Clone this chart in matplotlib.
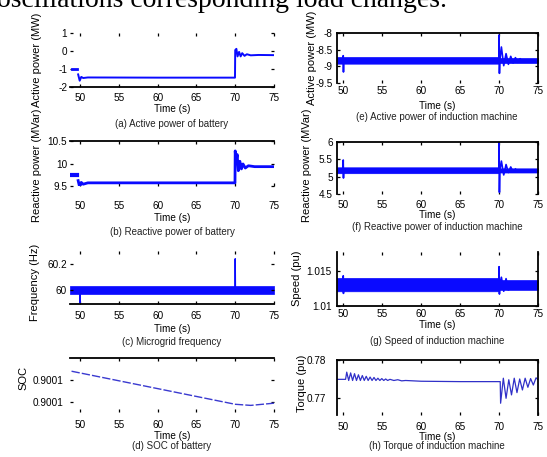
import matplotlib
matplotlib.use('Agg')
import matplotlib.pyplot as plt

plt.rcParams['font.family'] = ['Liberation Sans', 'DejaVu Sans']

W, H = 547, 457
blue = '#0a0aff'

# (a) active power of battery
t_a0 = [48.95, 49.6]
p_a0 = [-1.0, -1.0]
t_a = [49.75, 49.95, 50.15, 50.4, 51.0, 60.0, 69.97, 70.0, 70.15, 70.3, 70.5, 70.7, 70.9, 71.2, 71.5, 72.0, 73.0, 75.0]
p_a = [-1.3, -1.65, -1.44, -1.5, -1.47, -1.48, -1.48, 0.05, 0.12, -0.3, -0.05, -0.3, -0.12, -0.27, -0.18, -0.24, -0.22, -0.23]

# (b) reactive power of battery
t_b0 = [48.95, 49.6]
q_b0 = [9.74, 9.74]
t_b = [49.75, 49.95, 50.15, 50.4, 51.0, 60.0, 69.97, 70.0, 70.1, 70.25, 70.4, 70.6, 70.8, 71.0, 71.3, 71.7, 72.5, 75.0]
q_b = [9.62, 9.47, 9.58, 9.54, 9.57, 9.57, 9.57, 10.28, 10.02, 10.2, 9.84, 10.05, 9.88, 9.99, 9.9, 9.95, 9.93, 9.93]

# (c) microgrid frequency
t_c_band = [48.7, 75.0]
f_c_lo = [59.965, 59.965]
f_c_hi = [60.03, 60.03]
t_c = [49.98, 50.0, 50.03, 69.98, 70.0, 70.03]
f_c = [60.0, 59.9, 60.0, 60.0, 60.24, 60.0]

# (d) SOC of battery
t_d = [48.9, 70.0, 72.0, 75.0]
soc_d = [0.900136, 0.900076, 0.900074, 0.900078]

# (e) active power of induction machine
t_e_band = [49.2, 69.98, 70.02, 75.0]
p_e_lo = [-8.92, -8.92, -8.90, -8.90]
p_e_hi = [-8.72, -8.72, -8.75, -8.75]
t_e = [49.97, 50.0, 50.03, 50.06, 69.97, 70.0, 70.05, 70.1, 70.3, 70.6, 70.9, 71.2, 71.5, 71.8, 72.1, 72.4, 72.7, 73.0]
p_e = [-8.82, -8.68, -9.17, -8.82, -8.82, -8.06, -9.21, -8.82, -8.42, -8.98, -8.62, -8.94, -8.7, -8.9, -8.74, -8.88, -8.77, -8.85]

# (f) reactive power of induction machine
t_f_band = [49.2, 69.98, 70.02, 75.0]
q_f_lo = [5.10, 5.10, 5.12, 5.12]
q_f_hi = [5.27, 5.27, 5.24, 5.24]
t_f = [49.97, 50.0, 50.03, 50.06, 69.97, 70.0, 70.05, 70.1, 70.3, 70.6, 70.9, 71.2, 71.5, 71.8, 72.1]
q_f = [5.18, 5.48, 4.96, 5.18, 5.18, 6.0, 4.55, 5.18, 5.45, 5.05, 5.35, 5.12, 5.28, 5.14, 5.22]

# (g) speed of induction machine
t_g_band = [49.2, 69.98, 70.02, 75.0]
w_g_lo = [1.0121, 1.0121, 1.0123, 1.0123]
w_g_hi = [1.0140, 1.0140, 1.0137, 1.0137]
t_g = [49.98, 50.0, 50.03, 50.06, 69.97, 70.0, 70.05, 70.1, 70.3, 70.6, 70.9, 71.2]
w_g = [1.013, 1.0143, 1.0118, 1.013, 1.013, 1.0156, 1.0117, 1.013, 1.0141, 1.0121, 1.0139, 1.0123]

# (h) torque of induction machine
t_h = [49.2, 50.3, 50.45, 50.7, 50.95, 51.2, 51.45, 51.7, 51.95, 52.2, 52.45, 52.7, 52.95, 53.2,
       53.45, 53.7, 53.95, 54.2, 54.45, 54.7, 54.95, 55.2, 55.45, 55.7, 56.0, 56.5, 57.0, 57.5,
       58.0, 60.0, 65.0, 70.15, 70.2, 70.55, 70.9, 71.25, 71.6, 71.95, 72.3, 72.65, 73.0, 73.35,
       73.7, 74.05, 74.4, 74.75, 75.0]
tq_h = [0.7749, 0.7749, 0.7768, 0.7746, 0.7766, 0.7746, 0.7764, 0.7746, 0.7761, 0.7746, 0.7759, 0.7746, 0.7757, 0.7746,
        0.7755, 0.7746, 0.7754, 0.7746, 0.7752, 0.7746, 0.7751, 0.7746, 0.7750, 0.7746, 0.7749, 0.7746, 0.7748, 0.7745,
        0.7746, 0.7744, 0.7743, 0.7743, 0.7686, 0.7752, 0.7699, 0.7748, 0.7708, 0.7752, 0.7714, 0.7750, 0.7721, 0.7752,
        0.7728, 0.7751, 0.7734, 0.7753, 0.7748]

x_ticks = [50, 55, 60, 65, 70, 75]


def fx(px):
    return px / W


def fy(py):
    return 1 - py / H


def make_axes(left, top, right, bottom, xlim, ylim, yticks, ylabels, spines, xpad, ypad):
    ax = fig.add_axes([fx(left), fy(bottom), (right - left) / W, (bottom - top) / H])
    ax.set_xlim(xlim)
    ax.set_ylim(ylim)
    ax.set_xticks(x_ticks)
    ax.set_xticklabels([str(v) for v in x_ticks])
    ax.set_yticks(yticks)
    ax.set_yticklabels(ylabels)
    for s in ['top', 'bottom', 'left', 'right']:
        ax.spines[s].set_visible(s in spines)
        ax.spines[s].set_linewidth(1.3)
    ax.tick_params(direction='in', length=2.5, width=0.9, top=True, right=True, labelsize=7.2)
    ax.tick_params(axis='x', pad=xpad)
    ax.tick_params(axis='y', pad=ypad)
    return ax


def labels(cx, ylab_x, ylab_y, ylab, time_y, cap_y, cap):
    fig.text(fx(ylab_x), fy(ylab_y), ylab, rotation=90, ha='center', va='center', fontsize=8)
    fig.text(fx(cx), fy(time_y), 'Time (s)', ha='center', va='center', fontsize=7.2)
    fig.text(fx(cx), fy(cap_y), cap, ha='center', va='center', fontsize=7, color='#222222')


fig = plt.figure(figsize=(W / 100, H / 100), dpi=100)

fig.text(fx(-3), fy(7), 'oscillations corresponding load changes.', fontsize=20,
         family=['Liberation Serif', 'DejaVu Serif'], va='baseline', ha='left')

# left column
ax = make_axes(70, 33, 274, 87, (48.7, 75), (-2, 1), [-2, -1, 0, 1], ['-2', '-1', '0', '1'], ['bottom'], 4.3, 2)
ax.plot(t_a0, p_a0, color=blue, lw=2)
ax.plot(t_a, p_a, color=blue, lw=1.4)
labels(172, 37, 60, 'Active power (MW)', 109, 124, '(a) Active power of battery')

ax = make_axes(70, 141, 274, 186, (48.7, 75), (9.5, 10.5), [9.5, 10, 10.5], ['9.5', '10', '10.5'], ['top'], 10.8, 2)
ax.plot(t_b0, q_b0, color=blue, lw=3)
ax.plot(t_b, q_b, color=blue, lw=2)
labels(172, 37, 165, 'Reactive power (MVar)', 218, 232, '(b) Reactive power of battery')

ax = make_axes(70, 251, 274, 304, (48.7, 75), (59.89, 60.3), [60, 60.2], ['60', '60.2'], ['bottom'], 5, 2)
ax.fill_between(t_c_band, f_c_lo, f_c_hi, color=blue, lw=0.5)
ax.plot(t_c, f_c, color=blue, lw=1)
labels(172, 35, 282, 'Frequency (Hz)', 329, 342, '(c) Microgrid frequency')

ax = make_axes(70, 358, 274, 412, (48.7, 75), (0.900062, 0.90016), [0.90008, 0.90012], ['0.9001', '0.9001'], ['top'], 5.8, 5)
ax.plot(t_d, soc_d, color='#3a3ad0', lw=1, ls=(0, (6, 1.5)))
labels(172, 23, 378, 'SOC', 436, 446, '(d) SOC of battery')

# right column
ax = make_axes(337, 33, 538, 83, (49.2, 75), (-9.5, -8), [-9.5, -9, -8.5, -8], ['-9.5', '-9', '-8.5', '-8'], ['top', 'left', 'right'], 2.2, 3)
ax.fill_between(t_e_band, p_e_lo, p_e_hi, color=blue, lw=0.5)
ax.plot(t_e, p_e, color=blue, lw=1.2)
labels(437, 312, 58, 'Active power (MW)', 106, 117, '(e) Active power of induction machine')

ax = make_axes(337, 142, 538, 194, (49.2, 75), (4.5, 6), [4.5, 5, 5.5, 6], ['4.5', '5', '5.5', '6'], ['top', 'left', 'right'], 4.3, 3)
ax.fill_between(t_f_band, q_f_lo, q_f_hi, color=blue, lw=0.5)
ax.plot(t_f, q_f, color=blue, lw=1.2)
labels(437, 307, 165, 'Reactive power (MVar)', 215, 227, '(f) Reactive power of induction machine')

ax = make_axes(337, 252, 538, 306, (49.2, 75), (1.01, 1.0177), [1.01, 1.015], ['1.01', '1.015'], ['bottom', 'left', 'right'], 2.2, 4)
ax.fill_between(t_g_band, w_g_lo, w_g_hi, color=blue, lw=0.5)
ax.plot(t_g, w_g, color=blue, lw=1.2)
labels(437, 297, 278, 'Speed (pu)', 325, 341, '(g) Speed of induction machine')

ax = make_axes(337, 360, 538, 415, (49.2, 75), (0.7655, 0.78), [0.77, 0.78], ['0.77', '0.78'], ['top', 'left', 'right'], 4.8, 8)
ax.plot(t_h, tq_h, color='#3030c8', lw=0.9)
labels(437, 302, 383, 'Torque (pu)', 437, 446, '(h) Torque of induction machine')

fig.savefig('out.png', dpi=100)
